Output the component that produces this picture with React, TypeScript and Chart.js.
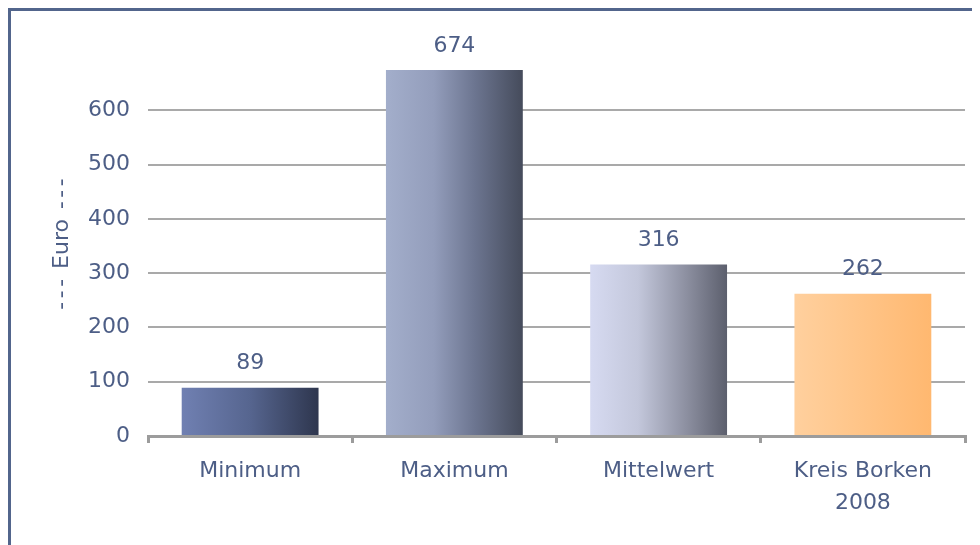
import React, { useEffect, useRef } from "react";
import { Chart, registerables } from "chart.js";

Chart.register(...registerables);

const categories: (string | string[])[] = ["Minimum", "Maximum", "Mittelwert", ["Kreis Borken", "2008"]];
const values: number[] = [89, 674, 316, 262];
const yTicks: number[] = [0, 100, 200, 300, 400, 500, 600];
const axisTitleParts: string[] = ["---", "Euro", "---"];
const gradientStops: [number, string][][] = [
  [[0, "#7080B2"], [0.5, "#56658F"], [1, "#2E364E"]],
  [[0, "#A3AECB"], [0.35, "#939DBB"], [0.65, "#6C7590"], [1, "#454B5B"]],
  [[0, "#D6DAF1"], [0.35, "#C3C7DB"], [0.7, "#8D90A1"], [1, "#5C5F6D"]],
  [[0, "#FFD09E"], [1, "#FFB870"]],
];

const TEXT = "#4D5E86";
const GRID = "#A9A9A9";
const AXIS = "#9C9C9C";
const FONT = "'DejaVu Sans', Verdana, sans-serif";
const BAR_PCT = 0.67;

export default function App() {
  const ref = useRef<HTMLCanvasElement | null>(null);

  useEffect(() => {
    if (!ref.current) return;
    const framePlugin = {
      id: "frame",
      beforeDraw(chart: any) {
        const c = chart.ctx;
        c.save();
        c.fillStyle = "#52658C";
        c.fillRect(0, 0, chart.width, 3);
        c.fillRect(0, 0, 3, chart.height);
        c.restore();
      },
    };
    const titlePlugin = {
      id: "yTitle",
      afterDraw(chart: any) {
        const c = chart.ctx;
        const ca = chart.chartArea;
        const cy = (ca.top + ca.bottom) / 2 - 2;
        const cx = 54;
        c.save();
        c.font = `22px ${FONT}`;
        c.fillStyle = TEXT;
        c.textBaseline = "middle";
        c.textAlign = "left";
        const space = c.measureText(" ").width + 3;
        const widths = axisTitleParts.map((p) => {
          (c as any).letterSpacing = p === "Euro" ? "0px" : "3.5px";
          const w = c.measureText(p).width;
          return p === "Euro" ? w : w - 3.5;
        });
        const total = widths.reduce((a, b) => a + b, 0) + space * (axisTitleParts.length - 1);
        c.translate(cx, cy);
        c.rotate(-Math.PI / 2);
        let x = -total / 2;
        axisTitleParts.forEach((p, i) => {
          (c as any).letterSpacing = p === "Euro" ? "0px" : "3.5px";
          c.fillText(p, x, 0);
          x += widths[i] + space;
        });
        c.restore();
      },
    };
    const labelPlugin = {
      id: "valueLabels",
      afterDatasetsDraw(chart: any) {
        const c = chart.ctx;
        const meta = chart.getDatasetMeta(0);
        c.save();
        c.font = `22px ${FONT}`;
        c.fillStyle = TEXT;
        c.textAlign = "center";
        c.textBaseline = "middle";
        meta.data.forEach((el: any, i: number) => {
          c.fillText(String(values[i]), el.x, el.y - 24);
        });
        c.restore();
      },
    };

    const chart = new Chart(ref.current, {
      type: "bar",
      data: {
        labels: categories,
        datasets: [
          {
            data: values,
            barPercentage: BAR_PCT,
            categoryPercentage: 1,
            borderWidth: 0,
            backgroundColor: (ctx: any) => {
              const ch = ctx.chart;
              const xs = ch.scales.x;
              if (!xs || !ch.chartArea) return "#888";
              const i = ctx.dataIndex;
              const cx = xs.getPixelForValue(i);
              const half = (xs.width / categories.length) * BAR_PCT / 2;
              const g = ch.ctx.createLinearGradient(cx - half, 0, cx + half, 0);
              gradientStops[i].forEach(([o, col]) => g.addColorStop(o, col));
              return g;
            },
          },
        ],
      },
      options: {
        animation: false,
        responsive: false,
        maintainAspectRatio: false,
        layout: { padding: { top: 48, right: 15, left: 0, bottom: 0 } },
        plugins: {
          legend: { display: false },
          tooltip: { enabled: false },
        },
        scales: {
          x: {
            grid: {
              display: true,
              drawOnChartArea: false,
              drawTicks: true,
              tickLength: 7,
              color: AXIS,
              lineWidth: 3,
            },
            border: { display: true, color: AXIS, width: 3 },
            ticks: {
              color: TEXT,
              font: { family: FONT, size: 22, lineHeight: 1.45 },
              padding: 12,
              maxRotation: 0,
              autoSkip: false,
            },
            afterFit: (s: any) => {
              s.height = 109;
            },
          },
          y: {
            min: 0,
            max: 700,
            afterBuildTicks: (s: any) => {
              s.ticks = yTicks.concat([700]).map((v) => ({ value: v }));
            },
            grid: {
              drawTicks: false,
              color: (ctx: any) => (ctx.tick && ctx.tick.value === 700 ? "rgba(0,0,0,0)" : GRID),
              lineWidth: 2,
            },
            border: { display: false },
            ticks: {
              color: TEXT,
              font: { family: FONT, size: 22 },
              padding: 18,
              callback: (v: any) => (v === 700 ? "" : String(v)),
            },
            afterFit: (s: any) => {
              s.width = 140;
            },
          },
        },
      },
      plugins: [framePlugin, labelPlugin, titlePlugin],
    });
    return () => chart.destroy();
  }, []);

  return (
    <div style={{ width: 972, height: 537 }}>
      <canvas ref={ref} width={972} height={537} style={{ display: "block" }} />
    </div>
  );
}
